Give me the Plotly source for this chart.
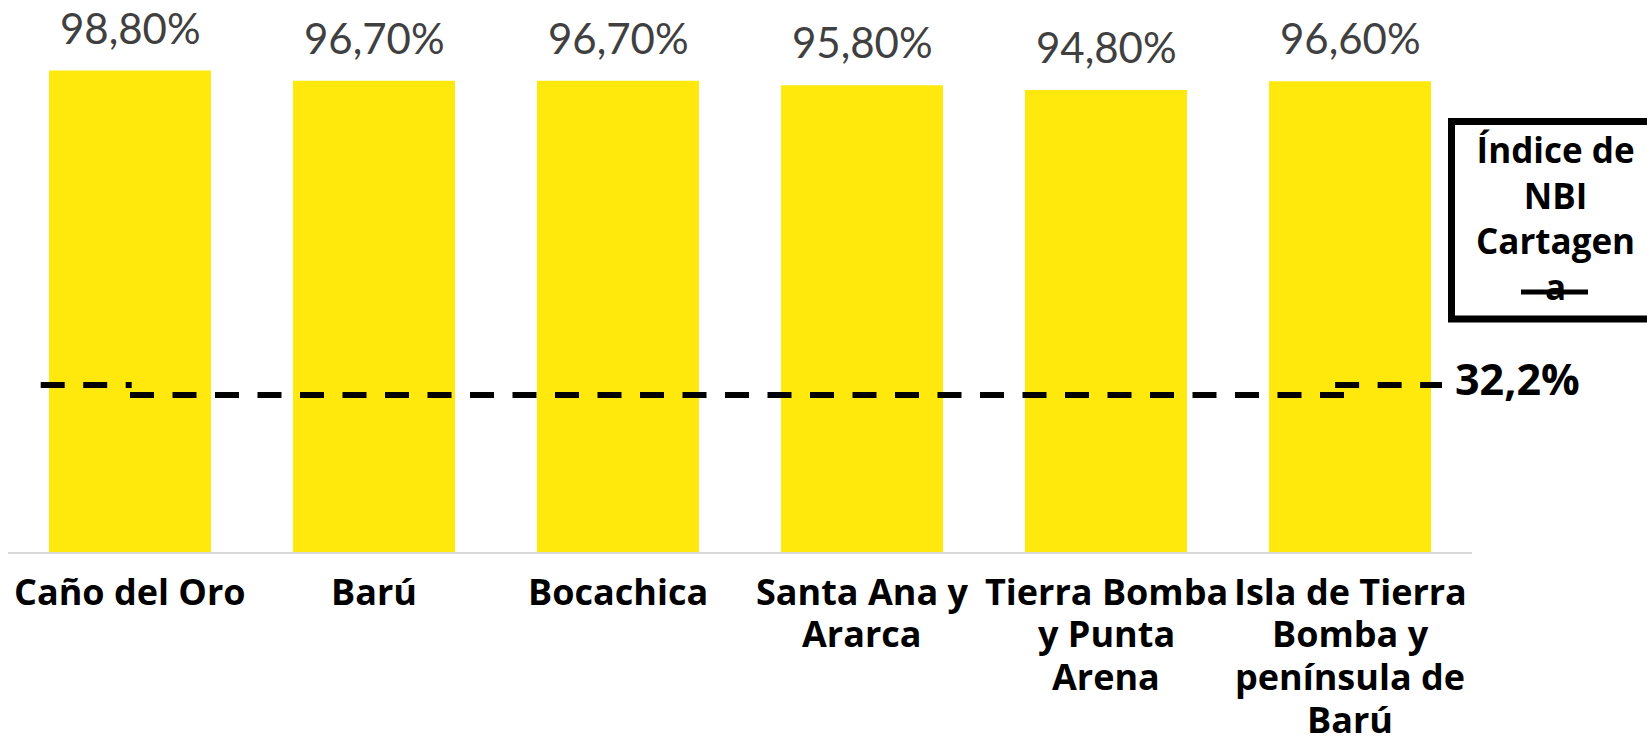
import plotly.graph_objects as go

# Localidades / zonas rurales de Cartagena
categories = [
    "Caño del Oro",
    "Barú",
    "Bocachica",
    "Santa Ana y<br>Ararca",
    "Tierra Bomba<br>y Punta<br>Arena",
    "Isla de Tierra<br>Bomba y<br>península de<br>Barú",
]
nbi_values = [98.8, 96.7, 96.7, 95.8, 94.8, 96.6]  # % NBI
reference_value = 32.2  # Índice de NBI Cartagena
reference_name = "Índice de<br>NBI<br>Cartagen<br>a"

BAR_COLOR = "#FFE90D"
W, H = 1647, 737
PL, PR, PT, PB = 8, 1472, 22, 552


def fx(px):
    return (px - PL) / (PR - PL)


def fy(py):
    return (PB - py) / (PB - PT)


def pct(v, decimals):
    return f"{v:.{decimals}f}".replace(".", ",") + "%"


idx = list(range(len(categories)))

fig = go.Figure()
fig.add_trace(go.Bar(
    x=idx, y=nbi_values,
    marker=dict(color=BAR_COLOR, line=dict(width=0)),
    hoverinfo="skip",
))
fig.add_trace(go.Scatter(
    x=idx, y=[reference_value] * len(idx),
    mode="lines",
    line=dict(color="black", width=6, dash="24px,18.5px"),
    hoverinfo="skip",
))

annotations = []
# value labels above the bars
for i, v in zip(idx, nbi_values):
    annotations.append(dict(
        x=i, y=v, xref="x", yref="y", text=pct(v, 2),
        showarrow=False, yanchor="bottom", yshift=16,
        font=dict(family="Lato", size=42, color="#404040", weight=400),
    ))
# category labels, one annotation per line
for i, label in zip(idx, categories):
    for k, line in enumerate(label.split("<br>")):
        annotations.append(dict(
            x=i, y=0, xref="x", yref="paper", text=line,
            showarrow=False, yanchor="middle", yshift=-39 - 42.7 * k,
            font=dict(family="Open Sans", size=36, color="black", weight=700),
        ))
# reference value label
annotations.append(dict(
    x=fx(1453), y=reference_value, xref="paper", yref="y",
    text=pct(reference_value, 1), showarrow=False,
    xanchor="left", yanchor="middle", yshift=17,
    font=dict(family="Open Sans", size=43, color="black", weight=700),
))
# legend text
annotations.append(dict(
    x=fx(1555), y=fy(217.7), xref="paper", yref="paper",
    text=reference_name, showarrow=False,
    xanchor="center", yanchor="middle", align="center",
    font=dict(family="Open Sans", size=35, color="black", weight=700),
))

dash = dict(color="black", width=6, dash="24px,18.5px")
last = idx[-1]
shapes = [
    # short offset pieces of the reference line at both ends
    dict(type="line", xref="x", yref="y", x0=idx[0] - 0.366, x1=idx[0] + 0.007,
         ysizemode="pixel", yanchor=reference_value, y0=10, y1=10, line=dash),
    dict(type="line", xref="x", yref="y", x0=last - 0.061, x1=last + 0.377,
         ysizemode="pixel", yanchor=reference_value, y0=10, y1=10, line=dash),
    # legend box
    dict(type="rect", xref="paper", yref="paper",
         x0=fx(1451.5), x1=fx(1720), y0=fy(319), y1=fy(121.5),
         line=dict(color="black", width=7), fillcolor="rgba(0,0,0,0)"),
    # legend line sample
    dict(type="line", xref="paper", yref="paper",
         x0=fx(1521), x1=fx(1588), y0=fy(292), y1=fy(292),
         line=dict(color="black", width=5)),
]

fig.update_layout(
    width=W, height=H,
    margin=dict(l=PL, r=W - PR, t=PT, b=H - PB, pad=0),
    paper_bgcolor="white", plot_bgcolor="white",
    showlegend=False,
    bargap=0.336,
    annotations=annotations,
    shapes=shapes,
    xaxis=dict(
        range=[-0.5, len(categories) - 0.5],
        showticklabels=False, showgrid=False, zeroline=False,
        showline=True, linecolor="#D9D9D9", linewidth=2, ticks="",
        fixedrange=True,
    ),
    yaxis=dict(
        range=[0, 108.76], visible=False, showgrid=False, zeroline=False,
        fixedrange=True,
    ),
)

fig.write_html("out.html", config={"displayModeBar": False})
